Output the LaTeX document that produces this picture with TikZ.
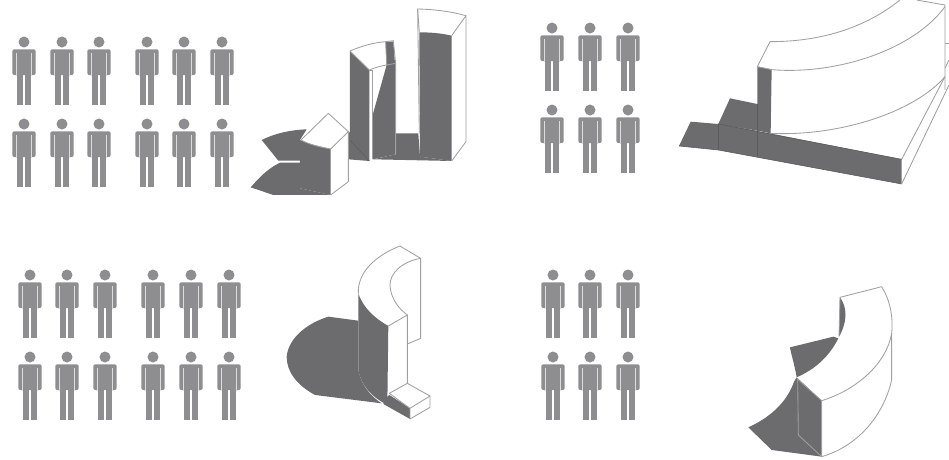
\documentclass[tikz,border=0pt]{standalone}
\usepackage{xcolor}
\definecolor{figgray}{HTML}{8E8E90}
\definecolor{shadegray}{HTML}{6C6C6E}
\definecolor{edgegray}{HTML}{A0A0A0}
\tikzset{
  shade/.style={fill=shadegray},
  edge/.style={draw=edgegray, line width=0.85pt, line join=round},
  darkedge/.style={draw=shadegray!85!black, line width=0.6pt},
  person/.pic={
    \fill[figgray] (0,0) circle (5.5);
    \fill[figgray, rounded corners=2pt] (-11.7,33) -- (-11.7,7.3) -- (11.7,7.3) -- (11.7,33) -- cycle;
    \fill[figgray] (-7.2,32) rectangle (-0.7,62.6);
    \fill[figgray] (0.7,32) rectangle (7.2,62.6);
    \draw[white!70!figgray, line width=1pt] (-7.6,11) -- (-7.6,34);
    \draw[white!70!figgray, line width=1pt] (7.6,11) -- (7.6,34);
  }
}

\begin{document}
\begin{tikzpicture}[x=1pt,y=-1pt]
\useasboundingbox (0,0) rectangle (949,459);

% People, panels one to four
\foreach \px in {24,62,99,147,184,222}
  \foreach \py in {42,124}
    \pic at (\px,\py) {person};
\foreach \px in {552,590,628}
  \foreach \py in {28,110}
    \pic at (\px,\py) {person};
\foreach \px in {30,67,105,153,191,229}
  \foreach \py in {275,357}
    \pic at (\px,\py) {person};
\foreach \px in {553,590,628}
  \foreach \py in {275,357}
    \pic at (\px,\py) {person};

% Panel one: three prisms
\begin{scope}[shift={(240,0)},x=0.3333pt,y=-0.3333pt]
% Ground shadows
\fill[shade] (465,400) -- (535,400) -- (540,470) -- (635,483) -- (400,478) -- (467,463) -- cycle;
\fill[shade] (325,392) -- (388,483) -- (325,478) -- cycle;
\fill[shade] (65,420) .. controls (105,400) and (150,390) .. (200,388) -- (180,420) -- (180,482) -- (115,482) -- cycle;
\fill[shade] (32,562) .. controls (60,530) and (85,505) .. (120,488) -- (180,488) -- (180,565) -- (272,585) -- (100,585) -- cycle;
% Tall prism
\fill[shade] (538,97) .. controls (575,97) and (605,100) .. (635,107) -- (635,483) -- (540,470) -- cycle;
\draw[edge] (538,400) -- (533,27) .. controls (585,28) and (635,35) .. (678,47) -- (635,107) (678,47) -- (678,425) -- (635,483);
\draw[edge] (538,97) -- (533,27);
% Middle prism
\fill[shade] (330,155) -- (388,210) -- (388,483) -- (330,420) -- cycle;
\fill[shade] (398,345) -- (440,195) -- (467,190) -- (467,463) -- (398,478) -- cycle;
\fill[shade] (437,125) -- (460,125) -- (465,190) -- (440,195) -- cycle;
\draw[edge] (330,153) .. controls (365,138) and (400,128) .. (437,125) -- (460,122) -- (467,190) -- (467,463);
\draw[edge] (330,153) -- (388,210) .. controls (405,203) and (425,197) .. (440,195) -- (467,190);
\draw[edge] (437,125) -- (440,195);
\draw[edge] (398,210) -- (398,478);
\draw[edge] (388,210) -- (398,210);
\draw[darkedge] (330,420) -- (388,483);
% House prism
\fill[shade] (180,420) .. controls (210,435) and (245,440) .. (272,447) -- (272,585) -- (180,565) -- cycle;
\draw[edge] (183,420) -- (265,340) -- (325,395) -- (272,447) (272,447) .. controls (245,442) and (210,435) .. (183,420);
\draw[edge] (325,395) -- (325,545) -- (272,585);
\end{scope}

% Panel two: curved block on a plinth
\begin{scope}[shift={(660,0)},x=0.3333pt,y=-0.3333pt]
\fill[shade] (175,370) -- (725,478) -- (725,552) -- (175,450) -- cycle;
\fill[shade] (57,438) -- (92,365) -- (175,372) -- (175,450) -- cycle;
\fill[shade] (175,372) -- (210,295) -- (292,312) -- (292,392) -- cycle;
\fill[shade] (292,200) -- (335,208) -- (332,400) -- (292,392) -- cycle;
\draw[edge] (292,200) -- (330,125) .. controls (490,125) and (620,80) .. (720,0);
\draw[edge] (292,200) -- (335,209) .. controls (530,225) and (760,150) .. (855,20);
\draw[edge] (332,400) .. controls (530,410) and (760,340) .. (855,230);
\draw[edge] (770,0) -- (855,15) -- (855,270);
\draw[edge] (725,478) -- (855,230);
\draw[edge] (725,552) -- (867,255);
\draw[edge] (725,478) -- (725,552);
\draw[edge] (855,130) -- (867,130);
\draw[edge] (855,205) -- (867,180);
\draw[darkedge] (175,372) -- (725,478);
\draw[darkedge] (57,438) -- (175,450) -- (725,552);
\draw[darkedge] (175,372) -- (175,450);
\draw[darkedge] (292,312) -- (292,468);
\end{scope}

% Panel three: hollowed column with a step
\begin{scope}[shift={(270,240)},x=0.3333pt,y=-0.3333pt]
% Ground shadow
\fill[shade] (175,230) -- (265,242) -- (265,390) .. controls (275,440) and (305,470) .. (335,490) -- (135,465) .. controls (80,435) and (50,395) .. (50,350) .. controls (55,295) and (110,250) .. (175,230) -- cycle;
% Curved wall
\fill[shade] (265,160) .. controls (280,205) and (315,235) .. (355,258) -- (352,495) .. controls (305,470) and (275,440) .. (265,390) -- cycle;
\fill[shade] (358,465) -- (420,505) -- (420,537) -- (340,492) -- (352,470) -- cycle;
% Outlines
\draw[edge] (265,160) .. controls (262,95) and (320,45) .. (390,18) -- (452,55) -- (452,295) -- (412,312);
\draw[edge] (452,55) .. controls (395,65) and (360,100) .. (360,135) .. controls (362,175) and (385,205) .. (412,225);
\draw[edge] (355,258) -- (412,225) -- (412,430) -- (358,460);
\draw[edge] (358,460) -- (420,505) -- (480,468) -- (412,430);
\draw[edge] (420,505) -- (420,537) -- (480,502) -- (480,468);
\end{scope}

% Panel four: curved wall
\begin{scope}[shift={(730,270)},x=0.3333pt,y=-0.3333pt]
% Ground shadows
\fill[shade] (180,232) -- (310,200) -- (325,205) .. controls (295,265) and (250,300) .. (200,322) .. controls (195,290) and (185,260) .. (180,232) -- cycle;
\fill[shade] (330,82) .. controls (350,110) and (355,150) .. (327,200) -- cycle;
\fill[shade] (200,322) -- (275,392) -- (275,560) -- (125,540) -- (55,472) .. controls (115,445) and (170,400) .. (192,335) -- cycle;
% Outlines
\draw[edge] (330,82) -- (455,50) .. controls (480,90) and (490,140) .. (485,190) .. controls (470,280) and (380,360) .. (275,392) -- (200,325);
\draw[edge] (485,190) -- (485,330) .. controls (460,440) and (380,530) .. (275,560) -- (275,392);
\draw[edge] (330,82) -- (327,200);
\draw[edge] (203,330) -- (205,495) -- (275,560);
\end{scope}

\end{tikzpicture}
\end{document}
